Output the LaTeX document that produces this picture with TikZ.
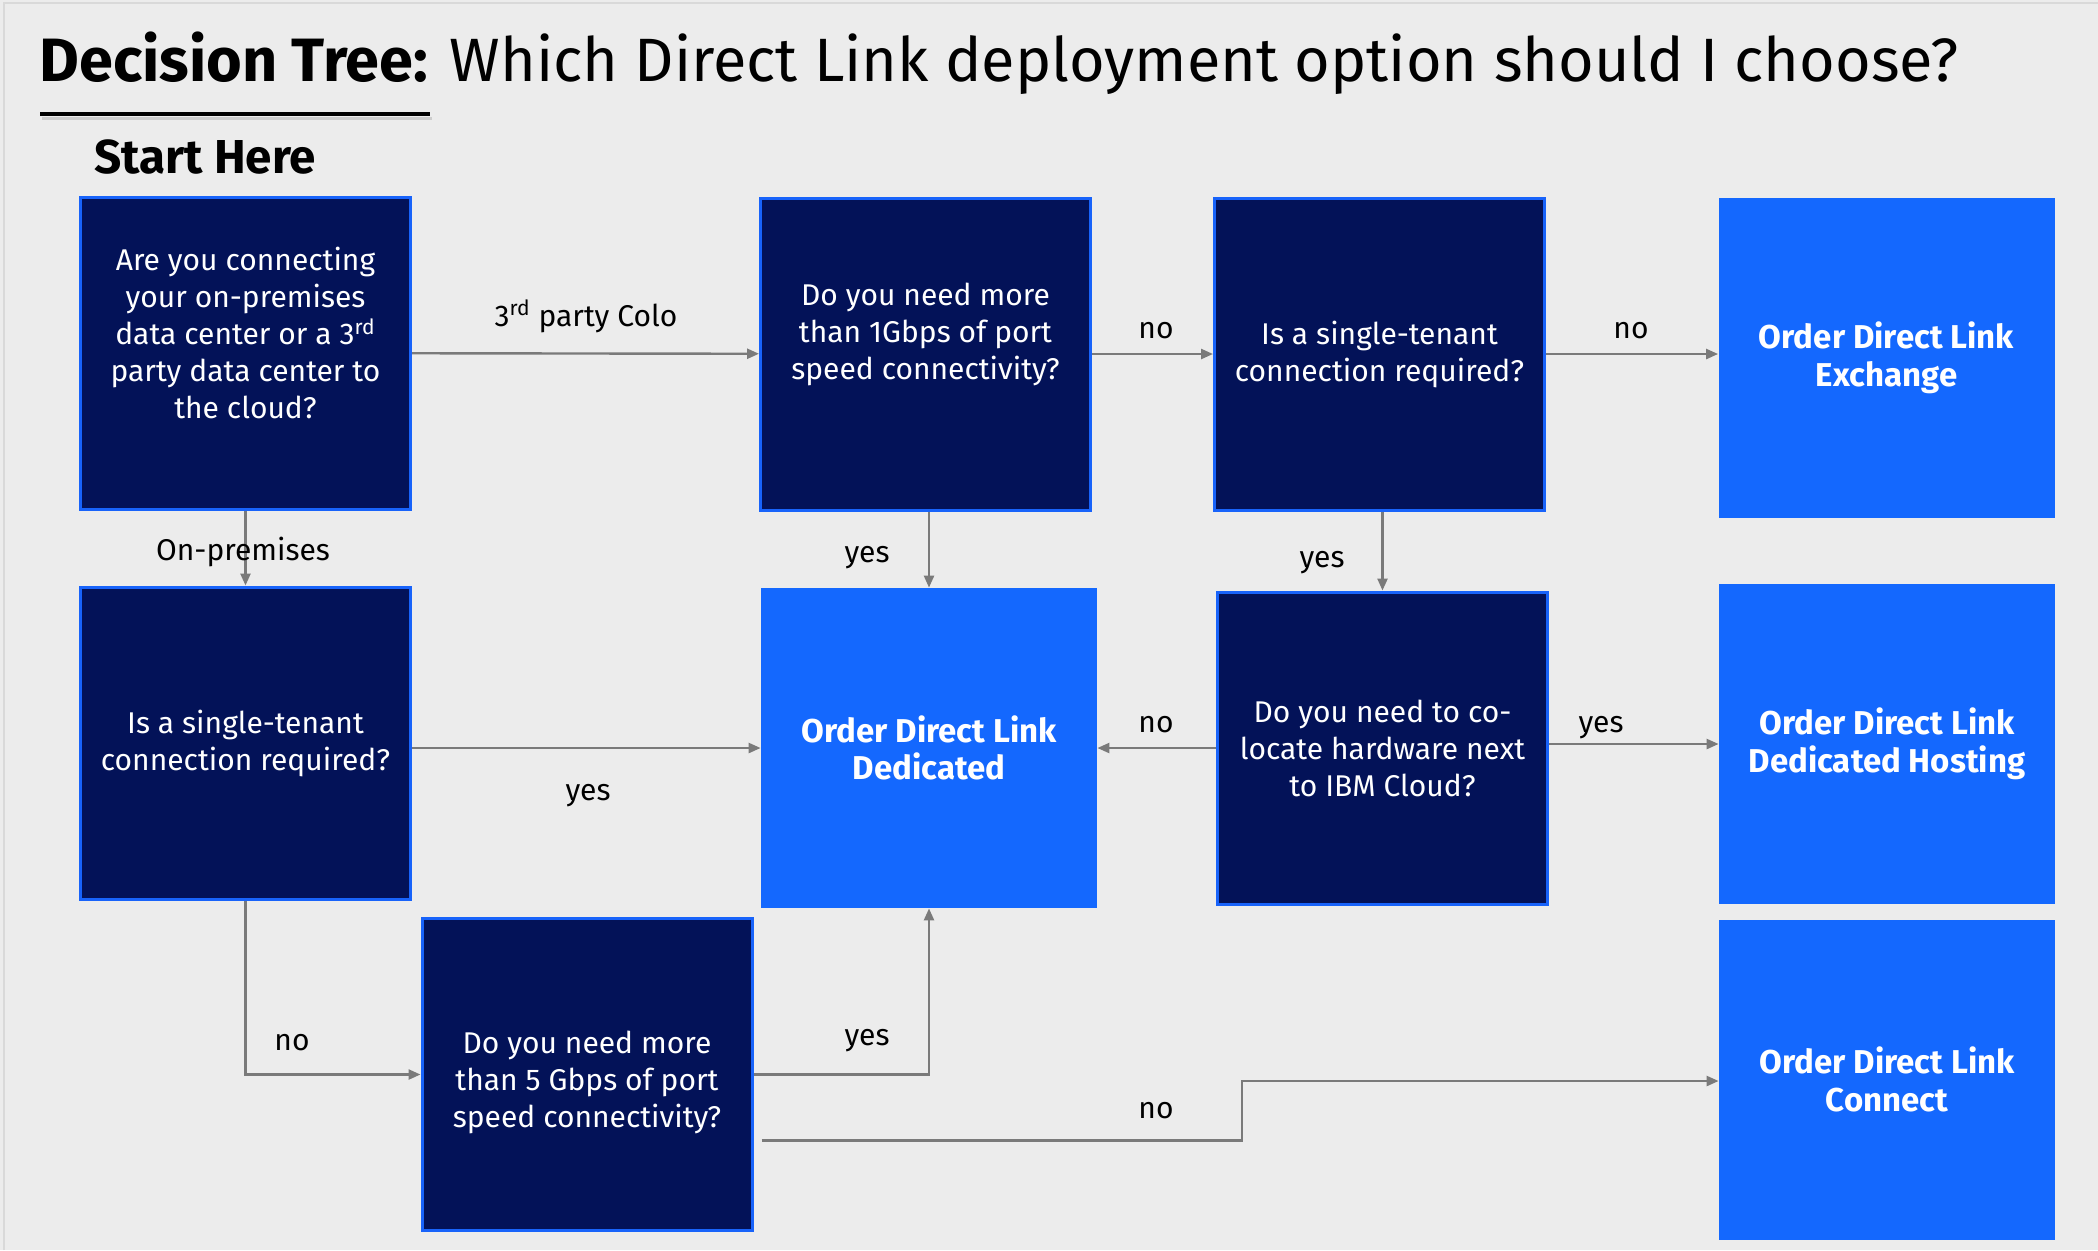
\documentclass[tikz,border=0pt]{standalone}
\usepackage{fontspec}
\setmainfont{Fira Sans}
\definecolor{navy}{RGB}{3,18,88}
\definecolor{ibmblue}{RGB}{20,104,254}
\definecolor{edgeblue}{RGB}{24,99,250}
\definecolor{linegray}{RGB}{122,122,122}
\definecolor{backgray}{RGB}{236,236,236}
\usetikzlibrary{arrows.meta}

\begin{document}
\begin{tikzpicture}[x=0.5pt,y=-0.5pt,
  question/.style={draw=edgeblue,line width=1.5pt,fill=navy,text=white,align=center,
    minimum width=165pt,minimum height=156pt,inner sep=0pt,font=\fontsize{15}{18.5}\selectfont},
  answer/.style={fill=ibmblue,text=white,align=center,
    minimum width=168pt,minimum height=160pt,inner sep=0pt,font=\bfseries\fontsize{16.5}{18.8}\selectfont},
  arrow/.style={draw=linegray,line width=1.2pt,-{Triangle[length=6pt,width=5pt]}},
  lbl/.style={anchor=base,inner sep=0pt,font=\fontsize{15}{18.5}\selectfont}
]
\useasboundingbox (0,0) rectangle (2098,1250);

% background and heading
\fill[backgray] (0,0) rectangle (2098,1250);
\draw[black!15,line width=1pt] (4,1250) -- (4,3) -- (2098,3);
\node[anchor=base west,inner sep=0pt,font=\fontsize{30.6}{36}\selectfont] (title) at (39,81)
  {\textbf{Decision Tree:} Which Direct Link deployment option should I choose?};
\draw[black!20,line width=1.5pt] (42,118) -- (432,118);
\draw[line width=2pt] (40,114) -- (430,114);
\node[anchor=base west,inner sep=0pt,font=\bfseries\fontsize{23.8}{27}\selectfont] (start) at (94,173) {Start Here};

% the questions
\node[question,text depth=20pt] (q1) at (245.5,353) {Are you connecting\\your on-premises\\data center or a 3\textsuperscript{rd}\\party data center to\\the cloud?};
\node[question,text depth=22.5pt] (q2) at (925.5,354) {Do you need more\\than 1Gbps of port\\speed connectivity?};
\node[question] (q3) at (1379.5,354) {Is a single-tenant\\connection required?};
\node[question] (q4) at (245.5,743) {Is a single-tenant\\connection required?};
\node[question] (q5) at (1382.5,748) {Do you need to co-\\locate hardware next\\to IBM Cloud?};
\node[question,text height=56pt] (q6) at (587,1074.5) {Do you need more\\than 5 Gbps of port\\speed connectivity?};

% the answers
\node[answer] (exch) at (1886.5,358) {Order Direct Link\\Exchange};
\node[answer] (ded) at (929,748) {Order Direct Link\\Dedicated};
\node[answer] (host) at (1887,744) {Order Direct Link\\Dedicated Hosting};
\node[answer] (conn) at (1887,1079.5) {Order Direct Link\\Connect};

% the connectors
\draw[arrow] (q1) -- (q2);
\draw[arrow] (q2) -- (q3);
\draw[arrow] (q3.east) -- (q3.east -| exch.west);
\draw[arrow] (q1) -- (q4);
\draw[arrow] (ded.north |- q2.south) -- (ded.north);
\draw[arrow] (q5.north |- q3.south) -- (q5.north);
\draw[arrow] (q4.east |- ded) -- (ded.west);
\draw[arrow] (q5) -- (ded);
\draw[arrow] (q5.east |- host) -- (host.west);
\draw[arrow] (q4.south) |- (q6.west);
\draw[arrow] (q6.east) -| (ded.south);
\coordinate (jog) at (1242,1081);
\draw[arrow] ([xshift=4pt,yshift=-33pt]q6.east) -| (jog) -- (jog -| conn.west);

% the connector labels
\foreach \x/\y/\t [count=\i] in {586/326/{3\textsuperscript{rd} party Colo}, 243/560/On-premises,
    1156/338/no, 1631/338/no, 867/562/yes, 1322/567/yes, 588/800/yes,
    1156/732/no, 1601/732/yes, 292/1050/no, 867/1045/yes, 1156/1118/no}
  \node[lbl] (lbl\i) at (\x,\y) {\t};

\end{tikzpicture}
\end{document}
